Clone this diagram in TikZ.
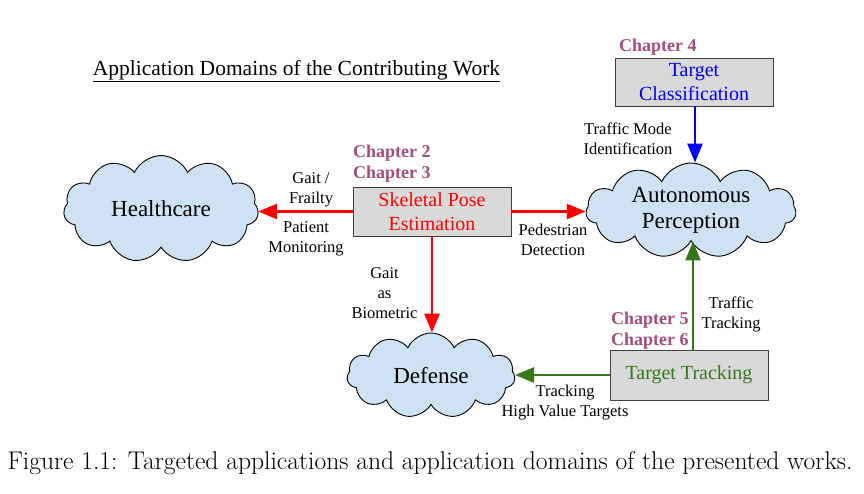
\documentclass[tikz,border=0pt]{standalone}
\usepackage{fontspec}
\newfontfamily\tnr{Liberation Serif}
\usetikzlibrary{shapes.symbols,arrows.meta}
\definecolor{chap}{HTML}{A64D79}
\definecolor{dgreen}{HTML}{38761D}
\definecolor{cloudblue}{HTML}{CFE2F3}
\definecolor{boxgray}{HTML}{D9D9D9}
\begin{document}
\begin{tikzpicture}[x=1pt,y=-1pt,
  cloudnode/.style={cloud, cloud puffs=11, cloud puff arc=130, cloud ignores aspect, draw=black, line width=0.9pt,
     fill=cloudblue, align=center, inner sep=0pt, font=\tnr\fontsize{23}{26}\selectfont},
  boxnode/.style={rectangle, draw=black!75, line width=0.9pt, fill=boxgray, align=center,
     inner sep=0pt, minimum width=158pt, font=\tnr\fontsize{20}{24.5}\selectfont},
  lab/.style={align=center, inner sep=0pt, font=\tnr\fontsize{16.5}{20}\selectfont},
  chapter/.style={anchor=west, inner sep=0pt, text=chap, font=\tnr\bfseries\fontsize{18}{21}\selectfont},
  conn/.style={line width=2.6pt, -{Triangle[length=19pt,width=15pt]}}]
\useasboundingbox (0,0) rectangle (864,493);
\fill[white] (0,0) rectangle (864,493);

\node[anchor=base, inner sep=0pt, font=\tnr\fontsize{21.5}{24}\selectfont] (title) at (296.5,75) {\underline{Application Domains of the Contributing Work}};

% clouds
\node[cloudnode, minimum width=195pt, minimum height=107pt] (health) at (161,209) {Healthcare};
\node[cloudnode, minimum width=210pt, minimum height=95pt] (auton) at (691,210.5) {Autonomous\\Perception};
\node[cloudnode, minimum width=168pt, minimum height=85pt] (defense) at (431,375.5) {Defense};

% boxes
\node[boxnode, minimum height=49pt, text=red] (skel) at (432,211.5) {Skeletal Pose\\Estimation};
\node[boxnode, minimum height=48pt, text=blue] (tclass) at (694,82) {Target\\Classification};
\node[boxnode, minimum height=50pt, text=dgreen] (ttrack) at (689,375) {Target Tracking};

% chapter labels
\node[chapter] (ch2) at (353,153) {Chapter 2};
\node[chapter] (ch3) at (353,174) {Chapter 3};
\node[chapter] (ch4) at (619,47) {Chapter 4};
\node[chapter] (ch5) at (611,320) {Chapter 5};
\node[chapter] (ch6) at (611,341) {Chapter 6};

% connectors
\draw[conn, red] (skel.west) -- (skel.west -| health.east);
\draw[conn, red] (skel.east) -- (skel.east -| auton.west);
\draw[conn, red] (skel.south) -- (skel.south |- defense.north);
\draw[conn, blue] ([xshift=1pt]tclass.south) -- ([xshift=1pt]tclass.south |- auton.north);
\draw[conn, dgreen] ([xshift=4pt]ttrack.north) -- ([xshift=4pt]ttrack.north |- auton.south);
\draw[conn, dgreen] (ttrack.west) -- (ttrack.west -| defense.east);

% connector labels
\node[lab] (l1) at (311,190) {Gait /\\Frailty};
\node[lab] (l2) at (306,238.5) {Patient\\Monitoring};
\node[lab] (l3) at (553,240) {Pedestrian\\Detection};
\node[lab] (l4) at (384.5,293) {Gait\\as\\Biometric};
\node[lab] (l5) at (628,138.5) {Traffic Mode\\Identification};
\node[lab] (l6) at (731,314.5) {Traffic\\Tracking};
\node[lab] (l7) at (565,403) {Tracking\\High Value Targets};

% caption
\node[inner sep=0pt, font=\fontsize{25.6}{30}\selectfont] (caption) at (430,463) {Figure 1.1: Targeted applications and application domains of the presented works.};
\end{tikzpicture}
\end{document}
